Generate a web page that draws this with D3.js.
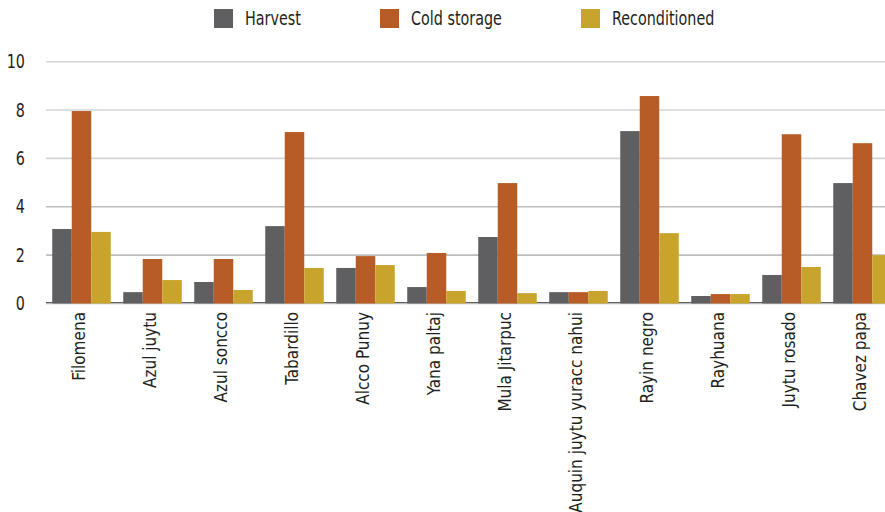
<!DOCTYPE html>
<html>
<head>
<meta charset="utf-8">
<script src="https://cdn.jsdelivr.net/npm/d3@7"></script>
<style>
  html, body { margin: 0; padding: 0; background: #fff; }
  svg { display: block; }
  text { font-family: "Liberation Sans Narrow", "DejaVu Sans Condensed", "Roboto Condensed", sans-serif; }
</style>
</head>
<body>
<svg id="chart" width="885" height="512"></svg>
<script>
const categories = ["Filomena", "Azul juytu", "Azul soncco", "Tabardillo", "Alcco Punuy", "Yana paltaj",
  "Mula Jitarpuc", "Auquin juytu yuracc nahui", "Rayin negro", "Rayhuana", "Juytu rosado", "Chavez papa"];
const seriesNames = ["Harvest", "Cold storage", "Reconditioned"];
const harvest       = [3.08, 0.47, 0.89, 3.20, 1.47, 0.68, 2.75, 0.47, 7.13, 0.31, 1.18, 4.98];
const coldStorage   = [7.96, 1.84, 1.84, 7.09, 1.96, 2.09, 4.98, 0.47, 8.58, 0.39, 7.00, 6.63];
const reconditioned = [2.96, 0.97, 0.56, 1.47, 1.59, 0.52, 0.43, 0.52, 2.91, 0.39, 1.51, 2.00];
const yTicks = [0, 2, 4, 6, 8, 10];
const colors = ["#5f5e60", "#b85c27", "#c9a42d"];

const seriesValues = [harvest, coldStorage, reconditioned];
const data = categories.map((c, i) => ({ cat: c, vals: seriesValues.map(s => s[i]) }));

const svg = d3.select("#chart");
const mLeft = 46, mRight = 898, mTop = 61.7, mBottom = 303.5;

const x = d3.scaleBand().domain(categories).range([mLeft, mRight]).paddingInner(0.176).paddingOuter(0.088);
const xs = d3.scaleBand().domain(seriesNames).range([0, x.bandwidth()]).padding(0);
const y = d3.scaleLinear().domain([0, 10]).range([mBottom, mTop]);

// gridlines
svg.append("g").selectAll("line").data(yTicks).join("line")
  .attr("x1", mLeft).attr("x2", 885)
  .attr("y1", d => y(d)).attr("y2", d => y(d))
  .attr("stroke", d => d >= 6 ? "#d4d4d4" : "#bdbdbd")
  .attr("stroke-width", 1.6);

// y tick labels (horizontally condensed)
svg.append("g").selectAll("text").data(yTicks).join("text")
  .attr("transform", d => `translate(25,${y(d)}) scale(0.84,1)`)
  .attr("dy", "0.35em")
  .attr("text-anchor", "end")
  .attr("font-size", 19).attr("fill", "#231f20")
  .text(d => d);

// dark axis line just above baseline
svg.append("line").attr("x1", mLeft).attr("x2", 885)
  .attr("y1", y(0) - 1).attr("y2", y(0) - 1)
  .attr("stroke", "#5f5e60").attr("stroke-width", 1);

// bars
const groups = svg.append("g").selectAll("g").data(data).join("g")
  .attr("transform", d => `translate(${x(d.cat)},0)`);
groups.selectAll("rect").data(d => d.vals.map((v, j) => ({ v, s: seriesNames[j], j })))
  .join("rect")
  .attr("x", d => xs(d.s))
  .attr("width", xs.bandwidth())
  .attr("y", d => y(d.v))
  .attr("height", d => y(0) - y(d.v))
  .attr("fill", d => colors[d.j]);

// x labels (rotated)
svg.append("g").selectAll("text").data(categories).join("text")
  .attr("transform", d => `translate(${x(d) + x.bandwidth() / 2 + 3},312) rotate(-90)`)
  .attr("text-anchor", "end")
  .attr("font-size", 17).attr("fill", "#231f20")
  .text(d => d);

// legend
const legendX = [214, 380, 581];
const leg = svg.append("g").selectAll("g").data(seriesNames).join("g")
  .attr("transform", (d, i) => `translate(${legendX[i]},9)`);
leg.append("rect").attr("width", 19).attr("height", 19).attr("fill", (d, i) => colors[i]);
leg.append("text")
  .attr("transform", "translate(31,9.5) scale(0.84,1)")
  .attr("dy", "0.35em")
  .attr("font-size", 19).attr("fill", "#231f20").text(d => d);
</script>
</body>
</html>
